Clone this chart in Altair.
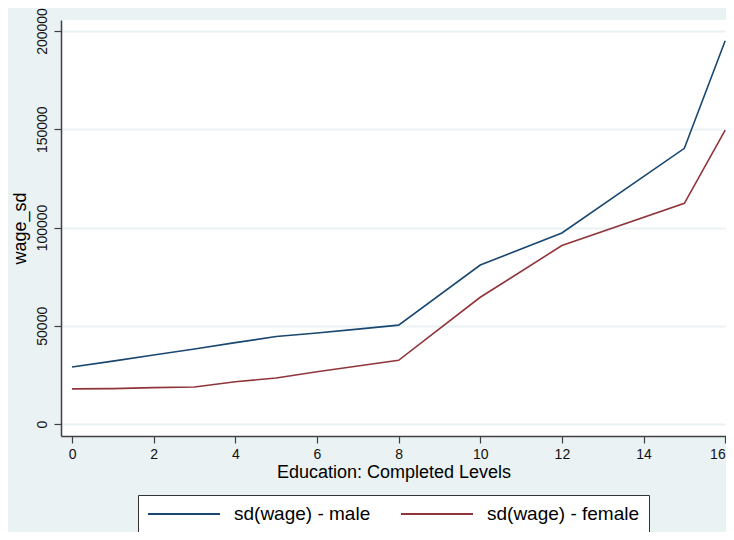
import altair as alt
import pandas as pd

# ---- data ----
education = [0, 1, 2, 3, 4, 5, 6, 7, 8, 10, 12, 15, 16]
sd_male = [29000, 32000, 35100, 38200, 41400, 44500, 46300, 48300, 50300,
           80900, 97200, 140300, 195000]
sd_female = [17900, 18000, 18500, 18800, 21500, 23400, 26600, 29500, 32400,
             64500, 90800, 112300, 149600]
series_names = ["sd(wage) - male", "sd(wage) - female"]
series_colors = ["#1a476f", "#90353b"]
x_ticks = [0, 2, 4, 6, 8, 10, 12, 14, 16]
y_ticks = [0, 50000, 100000, 150000, 200000]

rows = []
for e, m, f in zip(education, sd_male, sd_female):
    rows.append({"edu": e, "sd": m, "series": series_names[0]})
    rows.append({"edu": e, "sd": f, "series": series_names[1]})
df = pd.DataFrame(rows)

FONT = "Arial, 'Liberation Sans', sans-serif"
BG = "#eaf2f3"

chart = alt.Chart(df).mark_line(strokeWidth=1.6, clip=True).encode(
    x=alt.X("edu:Q",
            title="Education: Completed Levels",
            scale=alt.Scale(domain=[-0.27, 16.02], nice=False, zero=False),
            axis=alt.Axis(values=x_ticks, grid=False, tickSize=7,
                          labelFontSize=14, labelPadding=4, labelFlush=3,
                          titleFontSize=18, titleFontWeight="normal",
                          titlePadding=2)),
    y=alt.Y("sd:Q",
            title="wage_sd",
            scale=alt.Scale(domain=[-6100, 205600], nice=False, zero=False),
            axis=alt.Axis(values=y_ticks, format="d", grid=True,
                          gridColor=BG, gridWidth=2,
                          tickSize=7, labelAngle=270, labelAlign="center",
                          labelBaseline="bottom", labelPadding=5,
                          labelFlush=False,
                          labelFontSize=14, titleFontSize=18,
                          titleFontWeight="normal", titlePadding=6)),
    color=alt.Color("series:N",
                    scale=alt.Scale(domain=series_names, range=series_colors),
                    sort=series_names,
                    legend=alt.Legend(title=None, orient="none",
                                      legendX=77, legendY=475,
                                      direction="horizontal",
                                      fillColor="white", strokeColor="#333333",
                                      padding=9,
                                      symbolType="M-4,0H4", symbolSize=324,
                                      symbolStrokeWidth=2, symbolOffset=27,
                                      labelOffset=40, columnPadding=26,
                                      labelFontSize=19, labelColor="#000000",
                                      labelFont=FONT)),
).properties(
    width=665,
    height=416,
    background=BG,
    autosize=alt.AutoSizeParams(type="none"),
    padding={"left": 53, "top": 12, "right": 0, "bottom": 96},
).configure_view(
    fill="white", strokeWidth=0
).configure_axis(
    labelFont=FONT, titleFont=FONT, labelColor="#111111", titleColor="#000000",
    domainColor="#404040", tickColor="#404040", domainWidth=1.5, tickWidth=1.2
)

chart.save("out.html", embed_options={"renderer": "svg", "actions": False})
